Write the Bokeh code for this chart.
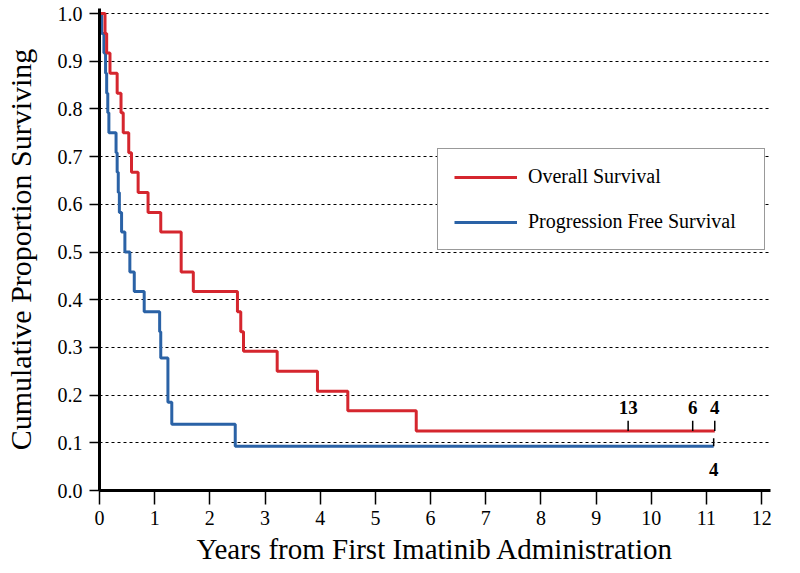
from bokeh.plotting import figure
from bokeh.models import (Range1d, FixedTicker, PrintfTickFormatter, Legend, LegendItem,
                          ColumnDataSource)
from bokeh.core.properties import value
from bokeh.embed import file_html
from bokeh.resources import INLINE

# ---- data ----
os_time = [0.0, 0.10, 0.13, 0.19, 0.32, 0.39, 0.43, 0.53, 0.58, 0.70, 0.88, 1.11,
           1.48, 1.70, 2.50, 2.56, 2.61, 3.22, 3.95, 4.50, 5.74, 11.15]
os_surv = [1.0, 0.958, 0.917, 0.875, 0.833, 0.792, 0.750, 0.708, 0.667, 0.625, 0.583, 0.542,
           0.458, 0.417, 0.375, 0.333, 0.292, 0.250, 0.208, 0.167, 0.125, 0.125]

pfs_time = [0.0, 0.04, 0.08, 0.11, 0.13, 0.15, 0.17, 0.30, 0.32, 0.34, 0.36, 0.40,
            0.46, 0.55, 0.63, 0.81, 1.09, 1.11, 1.24, 1.31, 2.46, 11.13]
pfs_surv = [1.0, 0.958, 0.917, 0.875, 0.833, 0.792, 0.750, 0.708, 0.667, 0.625, 0.583, 0.542,
            0.500, 0.458, 0.417, 0.375, 0.333, 0.278, 0.185, 0.139, 0.0926, 0.0926]

os_censor_time = [9.58, 10.75, 11.15]
os_censor_surv = [0.125, 0.125, 0.125]
os_censor_label = ["13", "6", "4"]

pfs_censor_time = [11.13]
pfs_censor_surv = [0.0926]
pfs_censor_label = ["4"]

x_ticks = list(range(0, 13))
y_ticks = [0.0, 0.1, 0.2, 0.3, 0.4, 0.5, 0.6, 0.7, 0.8, 0.9, 1.0]

series_names = ["Overall Survival", "Progression Free Survival"]

# ---- styles ----
RED = "#d5262e"
BLUE = "#2a62a6"
SERIF = "Liberation Serif"
TICK_H = 0.021

p = figure(width=792, height=570, output_backend="svg", toolbar_location=None,
           x_range=Range1d(0, 12.16), y_range=Range1d(0, 1.0105),
           min_border_left=92, min_border_right=22, min_border_top=8, min_border_bottom=80)
p.outline_line_color = None
p.background_fill_color = "white"
p.border_fill_color = "white"

# grid
p.xgrid.visible = False
p.ygrid.ticker = FixedTicker(ticks=y_ticks)
p.ygrid.grid_line_color = "black"
p.ygrid.grid_line_dash = "3 3"
p.ygrid.grid_line_width = 1

# axes
for ax in (p.xaxis[0], p.yaxis[0]):
    ax.axis_line_width = 3
    ax.axis_line_color = "black"
    ax.major_tick_line_color = "black"
    ax.major_tick_line_width = 1.5
    ax.major_tick_in = 0
    ax.minor_tick_line_color = None
    ax.major_label_text_font = SERIF
    ax.major_label_text_font_size = "20px"
    ax.major_label_text_color = "black"
    ax.axis_label_text_font = SERIF
    ax.axis_label_text_font_style = "normal"
    ax.axis_label_text_color = "black"

p.xaxis.ticker = FixedTicker(ticks=x_ticks)
p.xaxis.major_tick_out = 14
p.xaxis.major_label_standoff = 6
p.xaxis.axis_label = "Years from First Imatinib Administration"
p.xaxis.axis_label_text_font_size = "29px"
p.xaxis.axis_label_standoff = 5

p.yaxis.ticker = FixedTicker(ticks=y_ticks)
p.yaxis.formatter = PrintfTickFormatter(format="%.1f")
p.yaxis.major_tick_out = 10
p.yaxis.major_label_standoff = 7
p.yaxis.axis_label = "Cumulative Proportion Surviving"
p.yaxis.axis_label_text_font_size = "30px"
p.yaxis.axis_label_standoff = 18

# curves
r_pfs = p.step(pfs_time, pfs_surv, mode="after", line_color=BLUE, line_width=3)
r_os = p.step(os_time, os_surv, mode="after", line_color=RED, line_width=3)

# censor ticks
p.segment(x0=os_censor_time, y0=os_censor_surv, x1=os_censor_time,
          y1=[v + TICK_H for v in os_censor_surv], line_color="black", line_width=1.5)
p.segment(x0=pfs_censor_time, y0=pfs_censor_surv, x1=pfs_censor_time,
          y1=[v + TICK_H * 0.8 for v in pfs_censor_surv], line_color="black", line_width=1.5)

src_os = ColumnDataSource(dict(x=os_censor_time, y=os_censor_surv, t=os_censor_label))
src_pfs = ColumnDataSource(dict(x=pfs_censor_time, y=pfs_censor_surv, t=pfs_censor_label))
p.text(x="x", y="y", text="t", source=src_os, y_offset=-23, text_align="center",
       text_baseline="middle", text_font=value(SERIF), text_font_style="bold",
       text_font_size="19px", text_color="black")
p.text(x="x", y="y", text="t", source=src_pfs, y_offset=23, text_align="center",
       text_baseline="middle", text_font=value(SERIF), text_font_style="bold",
       text_font_size="19px", text_color="black")

legend = Legend(items=[LegendItem(label=series_names[0], renderers=[r_os]),
                       LegendItem(label=series_names[1], renderers=[r_pfs])],
                location=(338, 240))
legend.label_text_font = SERIF
legend.label_text_font_size = "20px"
legend.label_text_color = "black"
legend.glyph_width = 63
legend.glyph_height = 16
legend.label_height = 16
legend.label_width = 220
legend.label_standoff = 11
legend.padding = 16
legend.spacing = 22
legend.border_line_color = "#333333"
legend.border_line_width = 1.5
legend.background_fill_color = "white"
legend.background_fill_alpha = 1.0
p.add_layout(legend, "center")

open("out.html", "w").write(file_html(p, INLINE))
